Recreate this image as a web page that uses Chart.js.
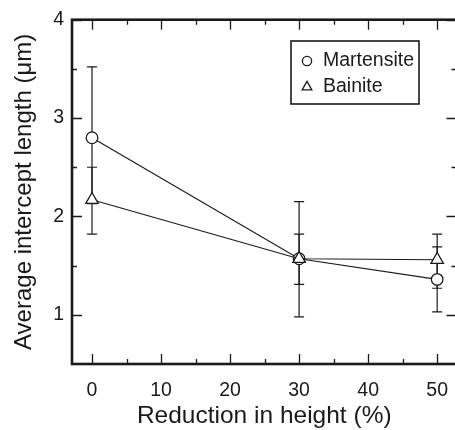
<!DOCTYPE html>
<html>
<head>
<meta charset="utf-8">
<script src="https://cdn.jsdelivr.net/npm/chart.js@4.4.1/dist/chart.umd.min.js"></script>
<style>
  html, body { margin: 0; padding: 0; background: #fff; }
  #wrap { width: 455px; height: 430px; overflow: hidden; position: relative; }
  canvas { display: block; }
</style>
</head>
<body>
<div id="wrap"><canvas id="c" width="465" height="430"></canvas></div>
<script>
// ---- data ----
const reduction = [0, 30, 50];
const seriesNames = ['Martensite', 'Bainite'];
const martensite = [2.80, 1.57, 1.36];
const martensiteErrUp = [0.72, 0.58, 0.33];
const martensiteErrDown = [0.67, 0.59, 0.33];
const bainite = [2.17, 1.57, 1.56];
const bainiteErrUp = [0.33, 0.25, 0.26];
const bainiteErrDown = [0.35, 0.26, 0.29];
const xMajorTicks = [0, 10, 20, 30, 40, 50];
const xMinorTicks = [5, 15, 25, 35, 45];
const yMajorTicks = [1, 2, 3, 4];
const yMinorTicks = [1.5, 2.5, 3.5];
const xTitle = 'Reduction in height (%)';
const yTitle = 'Average intercept length (\u03bcm)';

const FONT = "'Liberation Sans', Arial, Helvetica, sans-serif";
const INK = '#1a1a1a';

const errData = [
  { vals: martensite, up: martensiteErrUp, down: martensiteErrDown },
  { vals: bainite, up: bainiteErrUp, down: bainiteErrDown }
];

const errorBars = {
  id: 'errorBars',
  beforeDatasetsDraw(chart) {
    const ctx = chart.ctx, xs = chart.scales.x, ys = chart.scales.y;
    ctx.save();
    ctx.strokeStyle = INK;
    ctx.lineWidth = 1.2;
    errData.forEach(s => {
      s.vals.forEach((v, i) => {
        const x = xs.getPixelForValue(reduction[i]);
        const yt = ys.getPixelForValue(v + s.up[i]);
        const yb = ys.getPixelForValue(v - s.down[i]);
        ctx.beginPath();
        ctx.moveTo(x, yt); ctx.lineTo(x, yb);
        ctx.moveTo(x - 5, yt); ctx.lineTo(x + 5, yt);
        ctx.moveTo(x - 5, yb); ctx.lineTo(x + 5, yb);
        ctx.stroke();
      });
    });
    ctx.restore();
  }
};

const frame = {
  id: 'frame',
  afterDatasetsDraw(chart) {
    const ctx = chart.ctx, a = chart.chartArea, xs = chart.scales.x, ys = chart.scales.y;
    ctx.save();
    ctx.strokeStyle = INK;
    // ticks
    ctx.lineWidth = 1.3;
    ctx.beginPath();
    const tickX = (v, len) => {
      const x = Math.round(xs.getPixelForValue(v)) + 0.5;
      ctx.moveTo(x, a.bottom); ctx.lineTo(x, a.bottom - len);
      ctx.moveTo(x, a.top); ctx.lineTo(x, a.top + len);
    };
    const tickY = (v, len) => {
      const y = Math.round(ys.getPixelForValue(v)) + 0.5;
      ctx.moveTo(a.left, y); ctx.lineTo(a.left + len, y);
      ctx.moveTo(a.right, y); ctx.lineTo(a.right - len, y);
    };
    xMajorTicks.forEach(v => tickX(v, 10));
    xMinorTicks.forEach(v => tickX(v, 5));
    yMajorTicks.forEach(v => tickY(v, 10));
    yMinorTicks.forEach(v => tickY(v, 5));
    ctx.stroke();
    // box
    ctx.lineWidth = 2.6;
    ctx.strokeRect(a.left, a.top, a.right - a.left, a.bottom - a.top);
    // legend
    const lx = 291, ly = 41, lw = 128, lh = 63;
    ctx.lineWidth = 1.6;
    ctx.fillStyle = '#fff';
    ctx.fillRect(lx, ly, lw, lh);
    ctx.strokeRect(lx, ly, lw, lh);
    ctx.lineWidth = 1.3;
    ctx.beginPath();
    ctx.arc(307, 61, 4.6, 0, Math.PI * 2);
    ctx.stroke();
    ctx.beginPath();
    const tr = 5.6, tcx = 307, tcy = 87;
    for (let k = 0; k < 3; k++) {
      const ang = k * 2 * Math.PI / 3;
      const px = tcx + Math.sin(ang) * tr, py = tcy - Math.cos(ang) * tr;
      if (k === 0) ctx.moveTo(px, py); else ctx.lineTo(px, py);
    }
    ctx.closePath();
    ctx.stroke();
    ctx.fillStyle = INK;
    ctx.font = '19.5px ' + FONT;
    ctx.textBaseline = 'alphabetic';
    ctx.textAlign = 'left';
    ctx.fillText(seriesNames[0], 323, 66);
    ctx.fillText(seriesNames[1], 323, 92);
    ctx.restore();
  }
};

const toPts = vals => reduction.map((x, i) => ({ x, y: vals[i] }));

new Chart(document.getElementById('c'), {
  type: 'scatter',
  data: {
    datasets: [
      {
        label: seriesNames[0],
        order: 1,
        data: toPts(martensite),
        showLine: true,
        borderColor: INK,
        borderWidth: 1.2,
        pointStyle: 'circle',
        pointRadius: 5.8,
        pointBackgroundColor: '#fff',
        pointBorderColor: INK,
        pointBorderWidth: 1.3
      },
      {
        label: seriesNames[1],
        order: 0,
        data: toPts(bainite),
        showLine: true,
        borderColor: INK,
        borderWidth: 1.2,
        pointStyle: 'triangle',
        pointRadius: 7.2,
        pointBackgroundColor: '#fff',
        pointBorderColor: INK,
        pointBorderWidth: 1.3
      }
    ]
  },
  options: {
    responsive: false,
    animation: false,
    devicePixelRatio: 1,
    clip: false,
    layout: { padding: { top: 14, right: 6.5, left: 0, bottom: 0 } },
    plugins: { legend: { display: false }, tooltip: { enabled: false } },
    scales: {
      x: {
        type: 'linear',
        min: -2.9,
        max: 52.8,
        grid: { display: false, drawTicks: false },
        border: { display: false },
        afterBuildTicks: s => { s.ticks = xMajorTicks.map(v => ({ value: v })); },
        afterFit: s => { s.height = 66; },
        ticks: { color: INK, font: { family: FONT, size: 19.5 }, padding: 15, maxRotation: 0 },
        title: { display: true, text: xTitle, color: INK, font: { family: FONT, size: 24.5, lineHeight: 1 }, padding: { top: 0, bottom: 2 } }
      },
      y: {
        type: 'linear',
        min: 0.5,
        max: 4,
        grid: { display: false, drawTicks: false },
        border: { display: false },
        afterBuildTicks: s => { s.ticks = yMajorTicks.map(v => ({ value: v })); },
        afterFit: s => { s.width = 72; },
        ticks: { color: INK, font: { family: FONT, size: 19.5 }, padding: 8 },
        title: { display: true, text: yTitle, color: INK, font: { family: FONT, size: 24, lineHeight: 1 }, padding: { top: 12, bottom: 0 } }
      }
    }
  },
  plugins: [errorBars, frame]
});
</script>
</body>
</html>
